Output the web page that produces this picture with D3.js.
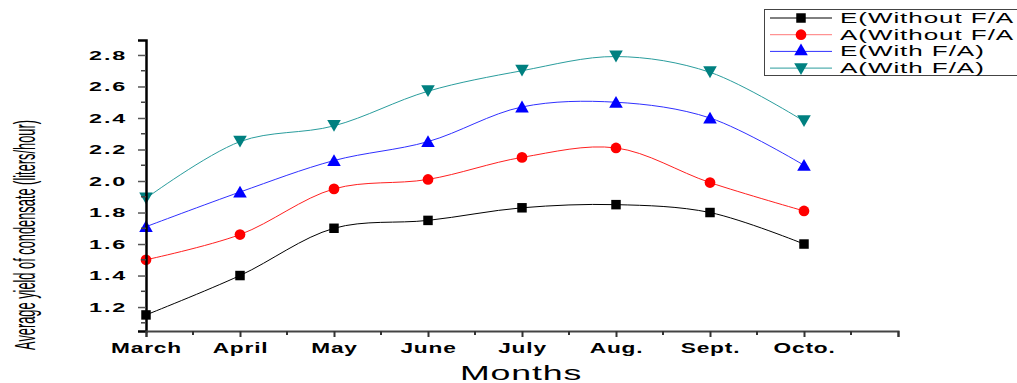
<!DOCTYPE html>
<html>
<head>
<meta charset="utf-8">
<script src="https://cdn.jsdelivr.net/npm/d3@7"></script>
<style>
  body { margin: 0; background: #fff; }
  text { font-family: Arial, "Liberation Sans", sans-serif; fill: #000; }
</style>
</head>
<body>
<svg id="chart" width="1017" height="383"></svg>
<script>
// months on the x axis
const months = ["March", "April", "May", "June", "July", "Aug.", "Sept.", "Octo."];
const yTicks = [1.2, 1.4, 1.6, 1.8, 2.0, 2.2, 2.4, 2.6, 2.8];

// series values (liters/hour)
const eWithout = [1.15, 1.40, 1.70, 1.75, 1.83, 1.85, 1.80, 1.60];
const aWithout = [1.50, 1.66, 1.95, 2.01, 2.15, 2.21, 1.99, 1.81];
const eWith    = [1.71, 1.93, 2.13, 2.25, 2.47, 2.50, 2.40, 2.10];
const aWith    = [1.89, 2.25, 2.35, 2.57, 2.70, 2.79, 2.69, 2.38];

const seriesNames = ["E(Without F/A", "A(Without F/A", "E(With F/A)", "A(With F/A)"];

const series = [
    { name: seriesNames[0], values: eWithout, color: "#000000", line: "#000000", symbol: d3.symbolSquare, size: 90, rot: 0 },
    { name: seriesNames[1], values: aWithout, color: "#ff0000", line: "#ff2020", symbol: d3.symbolCircle, size: 90, rot: 0 },
    { name: seriesNames[2], values: eWith, color: "#0000ff", line: "#3030ff", symbol: d3.symbolTriangle, size: 80, rot: 0 },
    { name: seriesNames[3], values: aWith, color: "#008080", line: "#2a9d9d", symbol: d3.symbolTriangle, size: 80, rot: 180 }
];

const svg = d3.select("#chart");
const margin = { left: 146, right: 119, top: 40, bottom: 52 };
const width = 1017, height = 383;

// the original figure's text is stretched sideways
function widen(sel, k = 1.6) {
    sel.each(function () {
        const w = this.getComputedTextLength();
        d3.select(this)
            .attr("textLength", w * k)
            .attr("lengthAdjust", "spacingAndGlyphs");
    });
}

const x = d3.scaleLinear().domain([0, 8]).range([margin.left, width - margin.right]);
const y = d3.scaleLinear().domain([1.048, 2.895]).range([height - margin.bottom, margin.top]);

// lines
const line = d3.line()
    .x((d, i) => x(i))
    .y(d => y(d))
    .curve(d3.curveCatmullRom.alpha(0.5));

series.forEach(s => {
    svg.append("path")
        .attr("d", line(s.values))
        .attr("fill", "none")
        .attr("stroke", s.line)
        .attr("stroke-width", 1);
});

// markers
series.forEach(s => {
    svg.append("g").selectAll("path")
        .data(s.values)
        .join("path")
        .attr("d", d3.symbol(s.symbol, s.size))
        .attr("fill", s.color)
        .attr("transform", (d, i) => `translate(${x(i)},${y(d) + (s.rot ? -2 : (s.symbol === d3.symbolTriangle ? 1.5 : 0))}) rotate(${s.rot})`);
});

// y axis
const yAxis = d3.axisLeft(y)
    .tickValues(yTicks)
    .tickSize(8)
    .tickPadding(11)
    .tickFormat(d3.format(".1f"));
const gy = svg.append("g")
    .attr("transform", `translate(${margin.left},0)`)
    .call(yAxis);
gy.select(".domain").attr("stroke", "#000").attr("stroke-width", 2.5);
gy.selectAll(".tick line").attr("stroke", "#555").attr("stroke-width", 1.5);
gy.selectAll(".tick text")
    .attr("font-size", 13)
    .attr("font-weight", "bold")
    .attr("letter-spacing", 1)
    .attr("fill", "#111")
    .call(widen, 1.8);
// y minor ticks
svg.append("g").selectAll("line")
    .data(d3.range(1.1, 2.9, 0.2))
    .join("line")
    .attr("x1", margin.left - 5).attr("x2", margin.left)
    .attr("y1", d => y(d)).attr("y2", d => y(d))
    .attr("stroke", "#444").attr("stroke-width", 1.5);

// x axis
const xAxis = d3.axisBottom(x)
    .tickValues(d3.range(0, 9))
    .tickSize(6)
    .tickPadding(6)
    .tickFormat(i => months[i] || "");
const gx = svg.append("g")
    .attr("transform", `translate(0,${height - margin.bottom})`)
    .call(xAxis);
gx.select(".domain").attr("stroke", "#444").attr("stroke-width", 2);
gx.selectAll(".tick line").attr("stroke", "#333").attr("stroke-width", 2);
gx.selectAll(".tick text")
    .attr("font-size", 14)
    .attr("font-weight", "bold")
    .attr("letter-spacing", 0.5)
    .attr("fill", "#111")
    .call(widen, 1.62);
// x minor ticks
svg.append("g").selectAll("line")
    .data(d3.range(0.5, 8, 1))
    .join("line")
    .attr("x1", d => x(d)).attr("x2", d => x(d))
    .attr("y1", height - margin.bottom).attr("y2", height - margin.bottom + 4)
    .attr("stroke", "#333").attr("stroke-width", 2);

// axis titles
svg.append("text")
    .attr("x", 521).attr("y", 380)
    .attr("text-anchor", "middle")
    .attr("font-size", 21)
    .attr("letter-spacing", 0.5)
    .text("Months")
    .call(widen, 1.7);

const yTitle = svg.append("text")
    .attr("text-anchor", "middle")
    .attr("font-size", 29)
    .text("Average yield of condensate (liters/hour)");
const yTitleK = 230 / yTitle.node().getComputedTextLength();
yTitle.attr("transform", `translate(35,235) rotate(-90) scale(${yTitleK},1)`);

// legend
const lg = svg.append("g");
lg.append("rect")
    .attr("x", 764.5).attr("y", 9.5)
    .attr("width", 270).attr("height", 66)
    .attr("fill", "#fff").attr("stroke", "#444").attr("stroke-width", 1);
series.forEach((s, i) => {
    const ly = 18 + i * 16.7;
    lg.append("line")
        .attr("x1", 770).attr("x2", 832)
        .attr("y1", ly).attr("y2", ly)
        .attr("stroke", s.line).attr("stroke-width", 1)
        .attr("opacity", i === 1 ? 0.6 : 1);
    lg.append("path")
        .attr("d", d3.symbol(s.symbol, s.size))
        .attr("fill", s.color)
        .attr("transform", `translate(801,${ly + (s.rot ? -1 : 0)}) rotate(${s.rot})`);
    lg.append("text")
        .attr("x", 840).attr("y", ly + 5)
        .attr("font-size", 14)
        .attr("letter-spacing", 0.5)
        .text(s.name)
        .call(widen, 1.86);
});
</script>
</body>
</html>
